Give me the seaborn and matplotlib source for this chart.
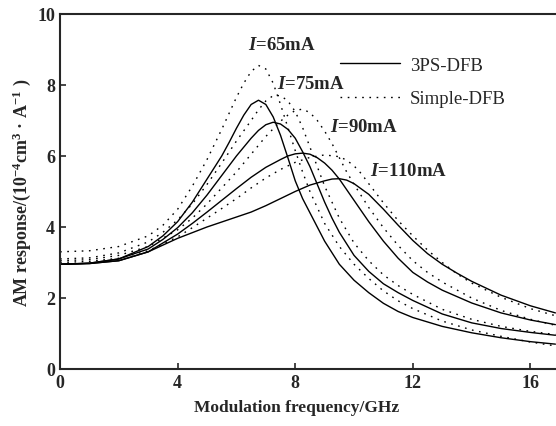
import numpy as np, pandas as pd, matplotlib
matplotlib.use('Agg')
import matplotlib.pyplot as plt
import seaborn as sns
from matplotlib.lines import Line2D

# values (GHz, 10^-4 cm^3/A)
f_s65 = [0, 1, 2, 3, 3.5, 4, 4.5, 5, 5.5, 5.75, 6, 6.25, 6.5, 6.75, 7, 7.25, 7.5, 7.75, 8, 8.25, 8.5, 9, 9.5, 10, 10.5, 11, 11.5, 12, 13, 14, 15, 16, 16.85]
v_s65 = [2.95, 2.98, 3.1, 3.45, 3.75, 4.15, 4.7, 5.35, 6.0, 6.38, 6.78, 7.15, 7.45, 7.57, 7.45, 7.1, 6.58, 5.95, 5.3, 4.8, 4.4, 3.6, 2.95, 2.5, 2.15, 1.85, 1.62, 1.45, 1.2, 1.02, 0.88, 0.77, 0.7]
f_s75 = [0, 1, 2, 3, 3.5, 4, 4.5, 5, 5.5, 6, 6.5, 6.75, 7, 7.25, 7.5, 7.75, 8, 8.25, 8.5, 8.75, 9, 9.25, 9.5, 10, 10.5, 11, 11.5, 12, 13, 14, 15, 16, 16.85]
v_s75 = [2.95, 2.98, 3.1, 3.38, 3.65, 3.98, 4.4, 4.9, 5.45, 6.0, 6.5, 6.72, 6.88, 6.95, 6.9, 6.75, 6.5, 6.12, 5.7, 5.2, 4.7, 4.25, 3.85, 3.2, 2.75, 2.4, 2.15, 1.93, 1.55, 1.3, 1.14, 1.03, 0.95]
f_s90 = [0, 1, 2, 3, 4, 4.5, 5, 5.5, 6, 6.5, 7, 7.5, 7.75, 8, 8.25, 8.5, 8.75, 9, 9.25, 9.5, 9.75, 10, 10.5, 11, 11.5, 12, 12.5, 13, 14, 15, 16, 16.85]
v_s90 = [2.95, 2.97, 3.05, 3.3, 3.8, 4.1, 4.42, 4.75, 5.08, 5.4, 5.68, 5.9, 6.0, 6.06, 6.08, 6.05, 5.95, 5.8, 5.6, 5.35, 5.05, 4.75, 4.15, 3.6, 3.12, 2.72, 2.45, 2.22, 1.86, 1.58, 1.38, 1.25]
f_s110 = [0, 1, 2, 3, 4, 5, 6, 6.5, 7, 7.5, 8, 8.5, 9, 9.25, 9.5, 9.75, 10, 10.5, 11, 11.5, 12, 12.5, 13, 13.5, 14, 15, 16, 16.85]
v_s110 = [2.95, 2.97, 3.05, 3.3, 3.68, 4.0, 4.28, 4.42, 4.6, 4.8, 5.0, 5.18, 5.3, 5.35, 5.36, 5.32, 5.22, 4.92, 4.5, 4.05, 3.62, 3.25, 2.95, 2.7, 2.47, 2.08, 1.78, 1.58]

f_d65 = [0, 1, 2, 3, 3.5, 4, 4.5, 5, 5.5, 5.75, 6, 6.25, 6.5, 6.75, 7, 7.25, 7.5, 7.75, 8, 8.25, 8.5, 9, 9.5, 10, 10.5, 11, 11.5, 12, 13, 14, 15, 16, 16.85]
v_d65 = [3.3, 3.33, 3.45, 3.75, 4.05, 4.5, 5.15, 5.9, 6.75, 7.2, 7.65, 8.05, 8.38, 8.55, 8.45, 8.05, 7.45, 6.8, 6.15, 5.55, 5.0, 4.1, 3.45, 2.95, 2.55, 2.2, 1.92, 1.7, 1.35, 1.1, 0.92, 0.76, 0.65]
f_d75 = [0, 1, 2, 3, 3.5, 4, 4.5, 5, 5.5, 6, 6.5, 6.75, 7, 7.25, 7.5, 7.75, 8, 8.25, 8.5, 8.75, 9, 9.5, 10, 10.5, 11, 11.5, 12, 13, 14, 15, 16, 16.85]
v_d75 = [3.1, 3.13, 3.27, 3.58, 3.85, 4.2, 4.65, 5.2, 5.8, 6.42, 7.0, 7.3, 7.55, 7.7, 7.7, 7.55, 7.25, 6.8, 6.25, 5.7, 5.15, 4.25, 3.55, 3.05, 2.65, 2.35, 2.1, 1.68, 1.4, 1.2, 1.06, 0.97]
f_d90 = [0, 1, 2, 3, 4, 4.5, 5, 5.5, 6, 6.5, 7, 7.5, 7.75, 8, 8.25, 8.5, 8.75, 9, 9.25, 9.5, 9.75, 10, 10.5, 11, 11.5, 12, 12.5, 13, 14, 15, 16, 16.85]
v_d90 = [3.05, 3.08, 3.2, 3.45, 3.92, 4.25, 4.65, 5.1, 5.55, 6.05, 6.55, 6.98, 7.15, 7.28, 7.32, 7.22, 7.0, 6.7, 6.35, 5.95, 5.55, 5.2, 4.55, 3.98, 3.48, 3.05, 2.72, 2.45, 2.0, 1.65, 1.4, 1.23]
f_d110 = [0, 1, 2, 3, 4, 4.5, 5, 5.5, 6, 6.5, 7, 7.5, 8, 8.5, 9, 9.5, 9.75, 10, 10.25, 10.5, 11, 11.5, 12, 12.5, 13, 13.5, 14, 15, 16, 16.85]
v_d110 = [3.0, 3.03, 3.12, 3.33, 3.72, 3.98, 4.25, 4.52, 4.8, 5.1, 5.38, 5.62, 5.82, 5.96, 6.03, 5.98, 5.88, 5.72, 5.5, 5.22, 4.68, 4.18, 3.75, 3.35, 3.0, 2.68, 2.42, 2.02, 1.7, 1.5]

currents = ['65', '75', '90', '110']
solid = [(f_s65, v_s65), (f_s75, v_s75), (f_s90, v_s90), (f_s110, v_s110)]
dotted = [(f_d65, v_d65), (f_d75, v_d75), (f_d90, v_d90), (f_d110, v_d110)]
lab_x = [6.4, 7.38, 9.18, 10.54]
lab_y = [9.15, 8.03, 6.82, 5.58]

sns.set_style('ticks')
plt.rcParams['font.family'] = ['Liberation Serif', 'DejaVu Serif']
plt.rcParams['mathtext.fontset'] = 'custom'
plt.rcParams['mathtext.rm'] = 'Liberation Serif:bold'
plt.rcParams['mathtext.it'] = 'Liberation Serif:italic:bold'
plt.rcParams['mathtext.bf'] = 'Liberation Serif:bold'
plt.rcParams['mathtext.default'] = 'regular'

dots = (0, (1.2, 4))
fig = plt.figure(figsize=(5.56, 4.27), dpi=100)
ax = fig.add_axes([0.108, 0.1335, 0.892, 0.8315])

for (fx, vy) in solid:
    sns.lineplot(x=fx, y=vy, ax=ax, color='k', lw=1.0, sort=False)
for (fx, vy) in dotted:
    sns.lineplot(x=fx, y=vy, ax=ax, color='k', lw=1.0, linestyle=dots, sort=False)

for c, x, y in zip(currents, lab_x, lab_y):
    ax.text(x, y, f'$\\mathit{{I}}$={c}mA', fontsize=13.5, fontweight='bold', va='center', ha='left')

hs = [Line2D([], [], color='k', lw=1.0), Line2D([], [], color='k', lw=1.0, linestyle=dots)]
ax.legend(hs, ['3PS-DFB', 'Simple-DFB'], loc='upper left', bbox_to_anchor=(0.565, 0.879),
          frameon=False, handlelength=3.2, labelspacing=0.85, handletextpad=0.5, fontsize=13.5,
          borderpad=0, borderaxespad=0)

ax.set_xlim(0, 16.87)
ax.set_ylim(0, 10)
ax.set_xticks([0, 4, 8, 12, 16])
ax.set_yticks([0, 2, 4, 6, 8, 10])
ax.tick_params(direction='in', length=4, width=1.2, labelsize=13)
for t in ax.get_xticklabels() + ax.get_yticklabels():
    t.set_fontweight('bold')
ax.spines['right'].set_visible(False)
for s in ['left', 'bottom', 'top']:
    ax.spines[s].set_linewidth(1.5)
ax.set_xlabel('Modulation frequency/GHz', fontsize=12.5, fontweight='bold', labelpad=5)
ax.xaxis.set_label_coords(0.478, -0.085)
ax.set_ylabel('AM response/(10$^{-4}$cm$^{3}$ · A$^{-1}$ )', fontsize=13, fontweight='bold', labelpad=3)

fig.savefig('out.png', dpi=100)
